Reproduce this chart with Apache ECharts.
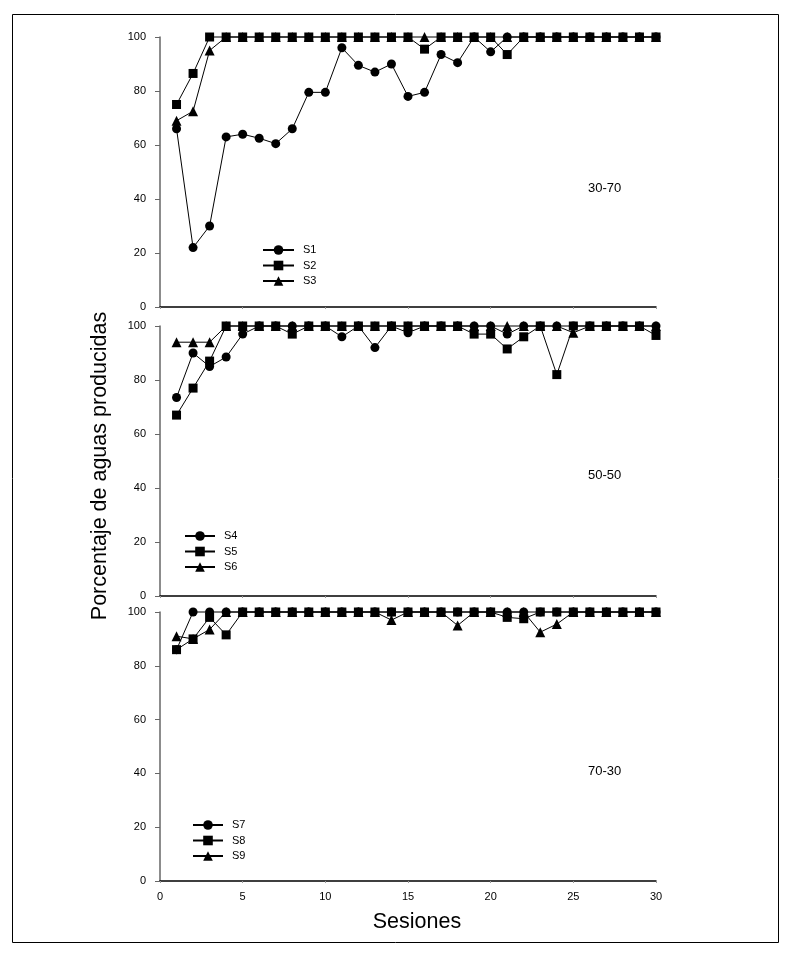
<!DOCTYPE html>
<html><head><meta charset="utf-8">
<script src="https://cdn.jsdelivr.net/npm/echarts@6/dist/echarts.min.js"></script>
<style>html,body{margin:0;padding:0;background:#fff}#c{width:792px;height:954px}</style>
</head><body><div id="c"></div>
<script>
const sesiones = [1,2,3,4,5,6,7,8,9,10,11,12,13,14,15,16,17,18,19,20,21,22,23,24,25,26,27,28,29,30];
const xTicks = [0,5,10,15,20,25,30];
const yTicks = [0,20,40,60,80,100];
const panelLabels = ['30-70','50-50','70-30'];
const yTitle = 'Porcentaje de aguas producidas';
const xTitle = 'Sesiones';

// Panel 30-70
const S1 = [66,22,30,63,64,62.5,60.5,66,79.5,79.5,96,89.5,87,90,78,79.5,93.5,90.5,100,94.5,100,100,100,100,100,100,100,100,100,100];
const S2 = [75,86.5,100,100,100,100,100,100,100,100,100,100,100,100,100,95.5,100,100,100,100,93.5,100,100,100,100,100,100,100,100,100];
const S3 = [69,72.5,95,100,100,100,100,100,100,100,100,100,100,100,100,100,100,100,100,100,100,100,100,100,100,100,100,100,100,100];
// Panel 50-50
const S4 = [73.5,90,85,88.5,97,100,100,100,100,100,96,100,92,100,97.5,100,100,100,100,100,97,100,100,100,100,100,100,100,100,100];
const S5 = [67,77,87,100,100,100,100,97,100,100,100,100,100,100,100,100,100,100,97,97,91.5,96,100,82,100,100,100,100,100,96.5];
const S6 = [94,94,94,100,100,100,100,100,100,100,100,100,100,100,100,100,100,100,100,100,100,100,100,100,97.5,100,100,100,100,100];
// Panel 70-30
const S7 = [86,100,100,100,100,100,100,100,100,100,100,100,100,100,100,100,100,100,100,100,100,100,100,100,100,100,100,100,100,100];
const S8 = [86,90,98,91.5,100,100,100,100,100,100,100,100,100,100,100,100,100,100,100,100,98,97.5,100,100,100,100,100,100,100,100];
const S9 = [91,90,93.5,100,100,100,100,100,100,100,100,100,100,97,100,100,100,95,100,100,100,100,92.5,95.5,100,100,100,100,100,100];

const panels = [
  {names:['S1','S2','S3'], data:[S1,S2,S3]},
  {names:['S4','S5','S6'], data:[S4,S5,S6]},
  {names:['S7','S8','S9'], data:[S7,S8,S9]}
];
const symbols = ['circle','rect','triangle'];
const symSizes = [9,9,10];
const FONT = 'Liberation Sans, Arial, sans-serif';

const grids = [
  {left:160, width:496, top:37, height:270},
  {left:160, width:496, top:326, height:270},
  {left:160, width:496, top:612, height:269}
];
const legendPos = [{left:262, top:244, w:31},{left:184, top:530, w:30},{left:192, top:819, w:30}];
const labelPos = [{x:606, y:189},{x:606, y:476},{x:606, y:772}];

const xAxis = [], yAxis = [], series = [], legend = [], graphic = [];
panels.forEach((p, i) => {
  xAxis.push({
    type:'value', gridIndex:i, min:0, max:30, interval:5,
    axisLine:{show:true, onZero:false, lineStyle:{color:'#000', width:1.5}},
    axisTick:{show:true, length:2, lineStyle:{color:'#999'}},
    splitLine:{show:false},
    axisLabel:{show:i===2, color:'#000', fontSize:11, fontFamily:FONT, margin:10}
  });
  yAxis.push({
    type:'value', gridIndex:i, min:0, max:100, interval:20,
    axisLine:{show:true, lineStyle:{color:'#666', width:1.5}},
    axisTick:{show:true, length:5, lineStyle:{color:'#666'}},
    splitLine:{show:false},
    axisLabel:{color:'#000', fontSize:11, fontFamily:FONT, margin:14}
  });
  // draw order: circle, triangle, square (square on top)
  [0,2,1].forEach(k => {
    series.push({
      name:p.names[k], type:'line', xAxisIndex:i, yAxisIndex:i,
      data: sesiones.map((s, j) => [s, p.data[k][j]]),
      symbol: symbols[k], symbolSize: symSizes[k], showSymbol:true,
      clip:false, animation:false,
      lineStyle:{color:'#000', width:1},
      itemStyle:{color:'#000', borderWidth:0}
    });
  });
  legend.push({
    orient:'vertical', left:legendPos[i].left, top:legendPos[i].top, padding:0,
    data:p.names, itemWidth:legendPos[i].w, itemHeight:12, itemGap:3.5,
    textStyle:{fontSize:11, color:'#000', fontFamily:FONT, padding:[0,0,0,4], lineHeight:12},
    selectedMode:false
  });
  graphic.push({type:'text', left:labelPos[i].x - 18, top:labelPos[i].y - 7,
    style:{text:panelLabels[i], fontSize:13, fill:'#000', font:'13px Liberation Sans, Arial, sans-serif'}});
});

graphic.push({type:'rect', shape:{x:12.5, y:14.5, width:766, height:928}, style:{fill:'none', stroke:'#000', lineWidth:1}, z:-1});
graphic.push({type:'text', x:100, y:466, rotation:Math.PI/2, style:{text:yTitle, fill:'#000', font:'21.5px Liberation Sans, Arial, sans-serif', align:'center', verticalAlign:'middle'}});
graphic.push({type:'text', x:417, y:922, style:{text:xTitle, fill:'#000', font:'21.5px Liberation Sans, Arial, sans-serif', align:'center', verticalAlign:'middle'}});

const chart = echarts.init(document.getElementById('c'), null, {renderer:'canvas'});
chart.setOption({
  animation:false,
  backgroundColor:'#fff',
  grid: grids,
  xAxis, yAxis, series, legend, graphic
});
</script></body></html>
